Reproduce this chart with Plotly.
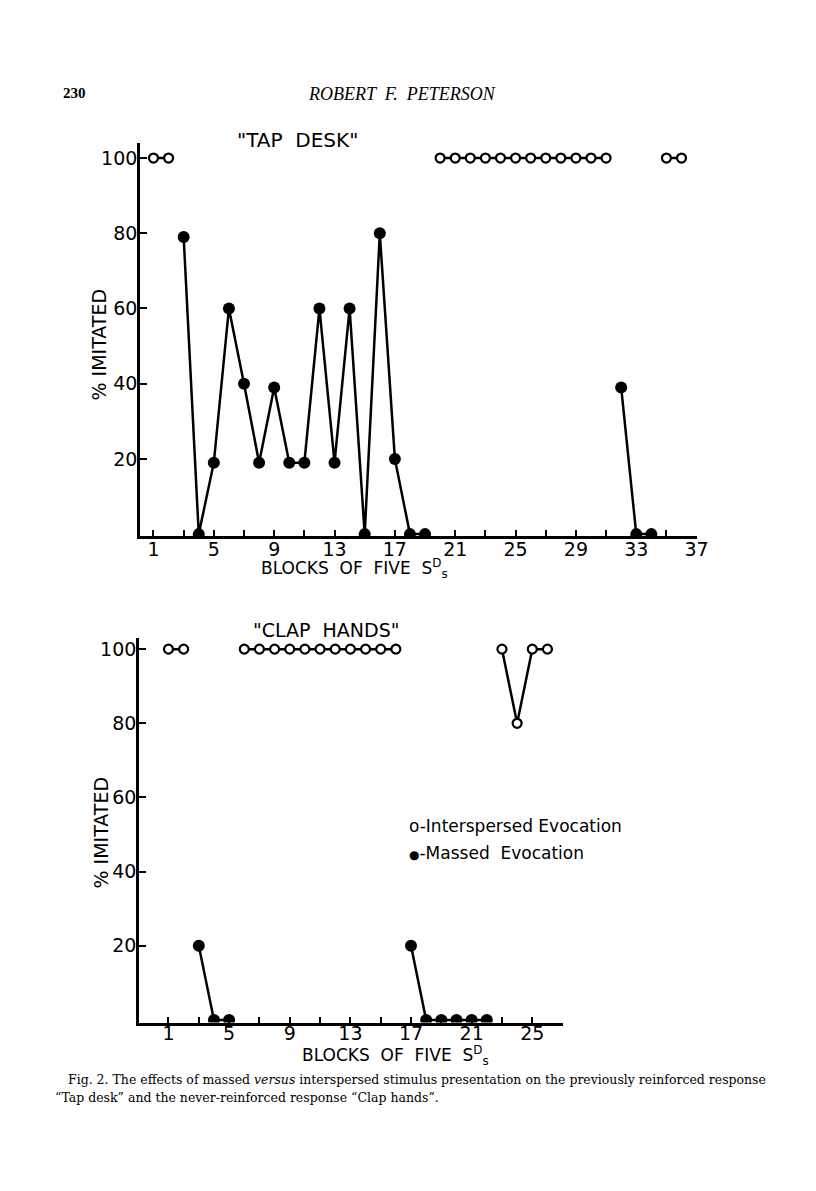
import plotly.graph_objects as go

# "Tap desk" panel -- blocks of five S^Ds and % imitated
tap_open_a_x = [1, 2]
tap_open_a_y = [100, 100]
tap_open_b_x = [20, 21, 22, 23, 24, 25, 26, 27, 28, 29, 30, 31]
tap_open_b_y = [100, 100, 100, 100, 100, 100, 100, 100, 100, 100, 100, 100]
tap_open_c_x = [35, 36]
tap_open_c_y = [100, 100]
tap_massed_a_x = [3, 4, 5, 6, 7, 8, 9, 10, 11, 12, 13, 14, 15, 16, 17, 18, 19]
tap_massed_a_y = [79, 0, 19, 60, 40, 19, 39, 19, 19, 60, 19, 60, 0, 80, 20, 0, 0]
tap_massed_b_x = [32, 33, 34]
tap_massed_b_y = [39, 0, 0]

# "Clap hands" panel
clap_open_a_x = [1, 2]
clap_open_a_y = [100, 100]
clap_open_b_x = [6, 7, 8, 9, 10, 11, 12, 13, 14, 15, 16]
clap_open_b_y = [100, 100, 100, 100, 100, 100, 100, 100, 100, 100, 100]
clap_open_c_x = [23, 24, 25, 26]
clap_open_c_y = [100, 80, 100, 100]
clap_massed_a_x = [3, 4, 5]
clap_massed_a_y = [20, 0, 0]
clap_massed_b_x = [17, 18, 19, 20, 21, 22]
clap_massed_b_y = [20, 0, 0, 0, 0, 0]

# tick labels
tap_tickvals = list(range(1, 38, 2))
tap_ticktext = [str(v) if (v - 1) % 4 == 0 else "" for v in tap_tickvals]
clap_tickvals = list(range(1, 28, 2))
clap_ticktext = [str(v) if (v - 1) % 4 == 0 else "" for v in clap_tickvals]
y_tickvals = [20, 40, 60, 80, 100]
y_ticktext = ["20", "40", "60", "80", "100"]

W, H = 816, 1191
FONT = "DejaVu Sans"
SERIF = "Liberation Serif"
CAPTION = "DejaVu Serif"


# positions below are page pixels; body margin is removed in the html
def px_x(p):
    return p / W


def px_y(p):
    return 1 - p / H


fig = go.Figure()


def add_open(x, y, xa, ya):
    fig.add_trace(go.Scatter(
        x=x, y=y, xaxis=xa, yaxis=ya, mode="lines+markers",
        line=dict(color="black", width=2.5),
        marker=dict(symbol="circle", size=9, color="white", line=dict(color="black", width=2.2)),
        showlegend=False, hoverinfo="skip",
    ))


def add_massed(x, y, xa, ya):
    fig.add_trace(go.Scatter(
        x=x, y=y, xaxis=xa, yaxis=ya, mode="lines+markers",
        line=dict(color="black", width=2.5),
        marker=dict(symbol="circle", size=12, color="black"),
        showlegend=False, hoverinfo="skip",
    ))


add_open(tap_open_a_x, tap_open_a_y, "x", "y")
add_open(tap_open_b_x, tap_open_b_y, "x", "y")
add_open(tap_open_c_x, tap_open_c_y, "x", "y")
add_massed(tap_massed_a_x, tap_massed_a_y, "x", "y")
add_massed(tap_massed_b_x, tap_massed_b_y, "x", "y")

add_open(clap_open_a_x, clap_open_a_y, "x2", "y2")
add_open(clap_open_b_x, clap_open_b_y, "x2", "y2")
add_open(clap_open_c_x, clap_open_c_y, "x2", "y2")
add_massed(clap_massed_a_x, clap_massed_a_y, "x2", "y2")
add_massed(clap_massed_b_x, clap_massed_b_y, "x2", "y2")

axis_common = dict(
    showline=True, linecolor="black", linewidth=2.5, mirror=False,
    showgrid=False, zeroline=False, ticks="inside", tickcolor="black",
    tickfont=dict(family=FONT, size=19, color="black"),
)

fig.update_layout(
    width=W, height=H,
    margin=dict(l=0, r=0, t=0, b=0),
    paper_bgcolor="white", plot_bgcolor="white",
    xaxis=dict(domain=[px_x(142), px_x(707)], range=[0.1, 37.0], anchor="y",
               tickvals=tap_tickvals, ticktext=tap_ticktext, ticklen=6, tickwidth=1.8,
               ticklabelstandoff=-6, **axis_common),
    yaxis=dict(domain=[px_y(536), px_y(143)], range=[-0.5, 104], anchor="x",
               tickvals=y_tickvals, ticktext=y_ticktext, ticklen=7, tickwidth=1.8,
               ticklabelstandoff=-4, **axis_common),
    xaxis2=dict(domain=[px_x(141), px_x(571)], range=[-0.95, 27.0], anchor="y2",
                tickvals=clap_tickvals, ticktext=clap_ticktext, ticklen=6, tickwidth=1.8,
                ticklabelstandoff=-8, **axis_common),
    yaxis2=dict(domain=[px_y(1022.6), px_y(638)], range=[-0.7, 103], anchor="x2",
                tickvals=y_tickvals, ticktext=y_ticktext, ticklen=7, tickwidth=1.8,
                ticklabelstandoff=-4, **axis_common),
)


def note(text, x, y, size, family=FONT, xanchor="center", angle=0, **kw):
    fig.add_annotation(
        text=text, x=px_x(x), y=px_y(y), xref="paper", yref="paper",
        xanchor=xanchor, yanchor="middle", showarrow=False, textangle=angle,
        font=dict(family=family, size=size, color="black"), **kw,
    )


# page header
note("<b>230</b>", 62, 93, 15, family=SERIF, xanchor="left")
note("<i>ROBERT  F.  PETERSON</i>", 408, 94, 18, family=SERIF)

# panel titles
note('"TAP  DESK"', 302, 140, 20)
note('"CLAP  HANDS"', 331, 630, 19)

# axis titles
note("BLOCKS  OF  FIVE  S<sup>D</sup><sub>s</sub>", 360, 569, 17)
note("BLOCKS  OF  FIVE  S<sup>D</sup><sub>s</sub>", 401, 1055, 17)
note("% IMITATED", 100, 345, 19, angle=-90)
note("% IMITATED", 103, 832, 19, angle=-90)

# key
note("o-Interspersed Evocation", 413, 826, 17, xanchor="left")
note("<span style='font-size:12px'>●</span>-Massed  Evocation", 413, 853, 17, xanchor="left")

# caption
note("Fig. 2. The effects of massed <i>versus</i> interspersed stimulus presentation on the previously reinforced response",
     67, 1079, 12.5, family=CAPTION, xanchor="left")
note("“Tap desk” and the never-reinforced response “Clap hands”.",
     54, 1097, 12.5, family=CAPTION, xanchor="left")

fig.write_html(
    "out.html",
    config={"displayModeBar": False},
    post_script="document.body.style.margin='0';document.body.style.padding='0';",
)
